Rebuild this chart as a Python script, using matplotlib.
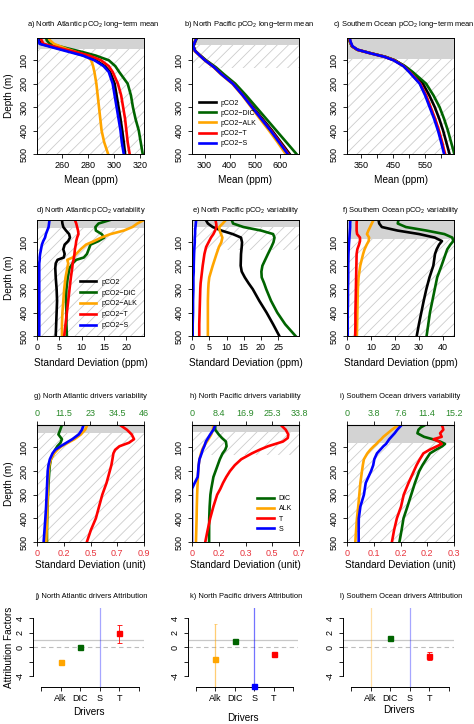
import numpy as np
import matplotlib
matplotlib.use("Agg")
import matplotlib.pyplot as plt

plt.rcParams['font.family'] = ['Liberation Sans', 'DejaVu Sans']
plt.rcParams['mathtext.fontset'] = 'custom'
plt.rcParams['mathtext.rm'] = 'Liberation Sans'
plt.rcParams['hatch.linewidth'] = 0.6

MINUS = "\u2212"
C_BLACK, C_DIC, C_ALK, C_T, C_S = "black", "#006400", "#FFA500", "#FF0000", "#0000FF"

# ---- a) North Atlantic pCO2 long-term mean
a_depth = [5, 15, 30, 50, 65, 80, 100, 125, 150, 200, 250, 300, 350, 400, 450, 500]
a_pco2 = [242, 242.5, 244, 258, 268, 277, 286, 293, 297, 300.5, 302, 303.5, 305, 306.3, 307.5, 308.5]
a_dic = [248, 248.5, 251, 265, 276, 286, 296, 301, 304, 310.5, 313, 314.5, 316.5, 319, 320.5, 322]
a_alk = [250, 251, 254, 263, 271, 279, 282.5, 284, 285, 286.5, 287.5, 288.5, 289.5, 290.5, 292.5, 295.5]
a_t = [244, 244.5, 246, 260, 271, 281, 290, 296, 299, 303, 305.5, 307, 308.5, 309.5, 310.5, 312]
a_s = [242, 242, 243, 256, 266, 276, 285, 292, 296, 299, 300.5, 302, 303.5, 305, 306, 307.5]

# ---- b) North Pacific pCO2 long-term mean
b_depth = [5, 20, 40, 60, 80, 100, 130, 160, 200, 250, 300, 350, 400, 450, 500]
b_pco2 = [268, 262, 255, 262, 282, 303, 340, 370, 415, 455, 492, 530, 568, 603, 638]
b_dic = [270, 263, 256, 263, 284, 306, 345, 377, 422, 465, 505, 545, 585, 625, 665]
b_alk = [266, 261, 254, 260, 280, 300, 336, 365, 410, 450, 485, 520, 556, 590, 622]
b_t = [268, 262, 255, 262, 282, 302, 338, 368, 413, 453, 489, 526, 564, 599, 633]
b_s = [268, 262, 255, 262, 281, 301, 338, 367, 412, 452, 488, 525, 562, 596, 630]

# ---- c) Southern Ocean pCO2 long-term mean
c_depth = [5, 20, 40, 55, 70, 85, 100, 125, 150, 200, 250, 300, 350, 400, 450, 500]
c_pco2 = [313, 315, 321, 338, 380, 425, 455, 485, 507, 543, 563, 580, 594, 606, 616, 626]
c_dic = [313, 315, 321, 338, 380, 425, 455, 487, 511, 553, 576, 595, 609, 621, 631, 641]
c_alk = [314, 316, 322, 338, 378, 422, 452, 482, 501, 534, 552, 566, 580, 592, 602, 611]
c_t = [314, 316, 322, 338, 379, 423, 453, 483, 502, 535, 553, 567, 581, 593, 603, 612]
c_s = [315, 317, 323, 339, 378, 422, 451, 482, 500, 533, 550, 564, 578, 590, 600, 609]

# ---- d) North Atlantic pCO2 variability
d_depth = [5, 20, 35, 50, 65, 80, 95, 110, 130, 150, 165, 175, 190, 210, 250, 300, 350, 400, 450, 500]
d_pco2 = [5.6, 5.7, 5.9, 6.5, 7.2, 7.4, 7.0, 6.2, 5.9, 6.2, 6.0, 4.6, 4.2, 4.1, 4.2, 4.4, 4.5, 4.4, 4.3, 4.2]
d_dic = [16.4, 13.8, 13.1, 13.2, 14.5, 15.1, 13.8, 12.0, 11.6, 11.2, 10.5, 8.8, 8.0, 7.3, 6.9, 6.6, 6.5, 6.6, 6.6, 6.7]
d_alk = [24, 22.5, 21.4, 19.5, 16.5, 14.4, 12.8, 11.0, 9.8, 8.8, 8.0, 6.8, 7.0, 6.8, 6.4, 6.1, 5.9, 5.7, 5.6, 5.6]
d_t = [8.5, 8.8, 9.0, 9.2, 9.3, 9.0, 8.8, 8.7, 8.5, 8.4, 8.3, 8.2, 8.0, 7.9, 7.6, 7.3, 7.0, 6.7, 6.4, 6.1]
d_s = [2.8, 2.7, 2.6, 2.3, 2.0, 1.8, 1.4, 1.1, 0.9, 0.7, 0.6, 0.6, 0.5, 0.5, 0.5, 0.5, 0.5, 0.5, 0.5, 0.5]

# ---- e) North Pacific pCO2 variability
e_depth = [5, 20, 35, 50, 65, 80, 100, 120, 150, 200, 225, 250, 275, 300, 350, 400, 450, 500]
e_pco2 = [4.0, 4.6, 6.0, 8.5, 11.8, 14.2, 14.5, 14.4, 14.2, 14.1, 14.4, 15.3, 16.4, 17.6, 19.5, 21.6, 23.5, 25.3]
e_dic = [11.5, 11.9, 14.9, 20.0, 23.5, 23.9, 23.6, 23.0, 22.0, 20.4, 20.1, 20.2, 20.9, 21.5, 22.9, 24.7, 27.0, 30.0]
e_alk = [9.8, 8.9, 7.9, 8.0, 8.4, 8.8, 8.5, 7.8, 7.1, 6.0, 5.5, 5.0, 4.8, 4.7, 4.6, 4.6, 4.6, 4.6]
e_t = [6.8, 7.0, 7.1, 6.7, 6.2, 5.5, 4.8, 4.1, 3.6, 3.1, 2.9, 2.7, 2.5, 2.4, 2.3, 2.2, 2.1, 2.1]
e_s = [1.2, 1.1, 1.0, 0.9, 0.9, 0.8, 0.8, 0.7, 0.6, 0.5, 0.5, 0.4, 0.4, 0.4, 0.3, 0.3, 0.2, 0.2]

# ---- f) Southern Ocean pCO2 variability
f_depth = [5, 20, 35, 50, 65, 80, 95, 110, 130, 150, 200, 250, 300, 350, 400, 450, 500]
f_pco2 = [13.1, 13.4, 14.5, 21.0, 30.0, 36.5, 39.5, 38.3, 37.3, 36.6, 35.9, 34.3, 33.0, 31.9, 30.9, 29.9, 29.0]
f_dic = [21.4, 21.1, 24.5, 33.0, 40.5, 43.8, 44.2, 43.0, 41.7, 41.0, 39.3, 37.5, 36.5, 35.5, 34.5, 33.8, 33.1]
f_alk = [11.0, 10.3, 9.6, 8.9, 8.3, 9.2, 9.0, 8.2, 7.3, 6.7, 5.5, 4.8, 4.5, 4.4, 4.3, 4.2, 4.1]
f_t = [4.1, 4.0, 4.0, 4.0, 4.2, 5.4, 5.4, 5.0, 4.3, 4.0, 3.9, 3.8, 3.7, 3.6, 3.5, 3.5, 3.4]
f_s = [1.4, 1.3, 1.3, 1.2, 1.1, 1.0, 0.9, 0.8, 0.7, 0.6, 0.5, 0.5, 0.4, 0.4, 0.3, 0.3, 0.3]

# ---- g) North Atlantic drivers variability (fraction of axis range)
g_depth = [5, 25, 45, 65, 80, 95, 110, 125, 150, 175, 200, 250, 300, 350, 400, 450, 500]
g_dic = [0.233, 0.217, 0.20, 0.233, 0.22, 0.19, 0.17, 0.155, 0.13, 0.12, 0.115, 0.108, 0.103, 0.098, 0.095, 0.093, 0.093]
g_alk = [0.47, 0.45, 0.41, 0.35, 0.29, 0.23, 0.19, 0.16, 0.13, 0.115, 0.108, 0.102, 0.10, 0.097, 0.093, 0.09, 0.087]
g_t = [0.776, 0.84, 0.885, 0.907, 0.86, 0.77, 0.73, 0.714, 0.705, 0.695, 0.68, 0.65, 0.61, 0.58, 0.55, 0.503, 0.466]
g_s = [0.435, 0.42, 0.39, 0.33, 0.275, 0.22, 0.17, 0.145, 0.12, 0.107, 0.10, 0.095, 0.09, 0.085, 0.078, 0.07, 0.062]

# ---- h) North Pacific drivers variability
h_depth = [5, 25, 45, 60, 75, 95, 110, 125, 150, 175, 200, 225, 250, 275, 300, 350, 400, 450, 500]
h_dic = [0.217, 0.217, 0.25, 0.28, 0.317, 0.323, 0.31, 0.286, 0.26, 0.24, 0.22, 0.20, 0.19, 0.18, 0.172, 0.165, 0.161, 0.16, 0.16]
h_alk = [0.20, 0.195, 0.18, 0.16, 0.14, 0.11, 0.095, 0.084, 0.07, 0.062, 0.058, 0.055, 0.053, 0.05, 0.048, 0.045, 0.043, 0.04, 0.037]
h_t = [0.83, 0.876, 0.90, 0.895, 0.85, 0.71, 0.63, 0.56, 0.46, 0.40, 0.355, 0.32, 0.29, 0.265, 0.235, 0.20, 0.17, 0.146, 0.124]
h_s = [0.217, 0.20, 0.17, 0.15, 0.13, 0.115, 0.10, 0.09, 0.07, 0.062, 0.058, 0.053, 0.025, 0.0, 0.0, 0.0, 0.0, 0.0, 0.0]

# ---- i) Southern Ocean drivers variability
i_depth = [5, 15, 25, 40, 55, 65, 75, 85, 95, 110, 125, 150, 175, 200, 250, 300, 350, 400, 450, 500]
i_dic = [0.73, 0.69, 0.668, 0.658, 0.72, 0.80, 0.87, 0.916, 0.89, 0.83, 0.776, 0.74, 0.705, 0.675, 0.635, 0.60, 0.565, 0.528, 0.51, 0.49]
i_alk = [0.48, 0.45, 0.42, 0.38, 0.34, 0.32, 0.295, 0.275, 0.25, 0.217, 0.19, 0.158, 0.148, 0.14, 0.125, 0.115, 0.105, 0.093, 0.085, 0.078]
i_t = [0.885, 0.895, 0.90, 0.87, 0.885, 0.81, 0.86, 0.885, 0.84, 0.77, 0.714, 0.68, 0.65, 0.625, 0.575, 0.53, 0.505, 0.466, 0.44, 0.42]
i_s = [0.51, 0.49, 0.47, 0.445, 0.415, 0.395, 0.38, 0.365, 0.34, 0.31, 0.28, 0.255, 0.245, 0.225, 0.175, 0.158, 0.125, 0.11, 0.109, 0.109]

g_top_labels = ["0", "11.5", "23", "34.5", "46"]
g_bot_labels = ["0", "0.2", "0.5", "0.7", "0.9"]
h_top_labels = ["0", "8.4", "16.9", "25.3", "33.8"]
h_bot_labels = ["0", "0.2", "0.3", "0.5", "0.7"]
i_top_labels = ["0", "3.8", "7.6", "11.4", "15.2"]
i_bot_labels = ["0", "0.1", "0.2", "0.2", "0.3"]

# ---- j-l) attribution factors: Alk, DIC, S, T  (nan = no estimate)
drivers = ["Alk", "DIC", "S", "T"]
j_est = [-2.0, 0.05, np.nan, 1.9]
j_lo = [-2.2, -0.08, -20, 0.6]
j_hi = [-1.8, 0.18, 20, 3.1]
k_est = [-1.7, 0.8, -5.4, -0.9]
k_lo = [-20, 0.7, -5.4, -1.05]
k_hi = [3.2, 0.9, 20, -0.75]
l_est = [np.nan, 1.2, np.nan, -1.25]
l_lo = [-20, 1.1, -20, -1.8]
l_hi = [20, 1.3, 20, -0.7]

W, H = 474, 724
fig = plt.figure(figsize=(W / 100, H / 100), dpi=100)


def px_axes(x0, y0, x1, y1):
    return fig.add_axes([x0 / W, 1 - y1 / H, (x1 - x0) / W, (y1 - y0) / H])


def ftext(x, y, s, **kw):
    fig.text(x / W, 1 - y / H, s, ha="center", va="center", **kw)


cols = [(37, 144), (192, 299), (347, 454)]
rows = [(38, 154), (220, 336), (425, 542)]


def depth_axes(col, row, band, hatch_to):
    x0, x1 = cols[col]
    y0, y1 = rows[row]
    ax = px_axes(x0, y0, x1, y1)
    ax.set_ylim(500, 5)
    ax.axhspan(5, band, facecolor="#d3d3d3", lw=0, zorder=0)
    ax.axhspan(band, hatch_to, facecolor="none", edgecolor="#cccccc", hatch="///", lw=0, zorder=0)
    ax.set_yticks([100, 200, 300, 400, 500])
    ax.set_yticklabels(["100", "200", "300", "400", "500"], rotation=90, va="center")
    ax.tick_params(length=3, width=0.6, labelsize=6.5, pad=2)
    ax.tick_params(axis="y", pad=3)
    for sp in ax.spines.values():
        sp.set_linewidth(0.7)
    if col == 0:
        ftext(9, (y0 + y1) / 2, "Depth (m)", fontsize=7.2, rotation=90)
    return ax


lw = 1.9
titles1 = ["a) North Atlantic pCO$_2$ long" + MINUS + "term mean",
           "b) North Pacific pCO$_2$ long" + MINUS + "term mean",
           "c) Southern Ocean pCO$_2$ long" + MINUS + "term mean"]
titles2 = ["d) North Atlantic pCO$_2$ variability",
           "e) North Pacific pCO$_2$ variability",
           "f) Southern Ocean pCO$_2$ variability"]
titles3 = ["g) North Atlantic drivers variability",
           "h) North Pacific drivers variability",
           "i) Southern Ocean drivers variability"]
titles4 = ["j) North Atlantic drivers Attribution",
           "k) North Pacific drivers Attribution",
           "l) Southern Ocean drivers Attribution"]

leg5 = ["pCO2", "pCO2" + MINUS + "DIC", "pCO2" + MINUS + "ALK", "pCO2" + MINUS + "T", "pCO2" + MINUS + "S"]
col5 = [C_BLACK, C_DIC, C_ALK, C_T, C_S]

# ---------------- row 1
row1 = [(a_depth, [a_pco2, a_dic, a_alk, a_t, a_s], 50, 500, (241, 323), [260, 280, 300, 320], None),
        (b_depth, [b_pco2, b_dic, b_alk, b_t, b_s], 35, 132, (250, 675), [300, 400, 500, 600], None),
        (c_depth, [c_pco2, c_dic, c_alk, c_t, c_s], 95, 500, (306, 640), [350, 400, 450, 500, 550, 600],
         ["350", "", "450", "", "550", ""])]
for ci, (dep, series, band, hto, xl, xt, xtl) in enumerate(row1):
    ax = depth_axes(ci, 0, band, hto)
    for vals, c, lab in zip(series, col5, leg5):
        ax.plot(vals, dep, color=c, lw=lw, label=lab)
    ax.set_xlim(*xl)
    ax.set_xticks(xt)
    if xtl:
        ax.set_xticklabels(xtl)
    if ci == 1:
        ax.legend(loc="lower left", bbox_to_anchor=(0.0, 0.0), frameon=False, fontsize=5,
                  handlelength=2.4, labelspacing=0.45, handletextpad=0.7, borderpad=0.5)
    c0 = (cols[ci][0] + cols[ci][1]) / 2
    ftext(c0 + 3, 25, titles1[ci], fontsize=5.4)
    ftext(c0, 180, "Mean (ppm)", fontsize=7.2)

# ---------------- row 2
row2 = [(d_depth, [d_pco2, d_dic, d_alk, d_t, d_s], 38, 500, (0, 24), [0, 5, 10, 15, 20]),
        (e_depth, [e_pco2, e_dic, e_alk, e_t, e_s], 34, 133, (0, 31), [0, 5, 10, 15, 20, 25]),
        (f_depth, [f_pco2, f_dic, f_alk, f_t, f_s], 87, 500, (0, 44.5), [0, 10, 20, 30, 40])]
for ci, (dep, series, band, hto, xl, xt) in enumerate(row2):
    ax = depth_axes(ci, 1, band, hto)
    for vals, c, lab in zip(series, col5, leg5):
        ax.plot(vals, dep, color=c, lw=lw, label=lab)
    ax.set_xlim(*xl)
    ax.set_xticks(xt)
    if ci == 0:
        ax.legend(loc="lower right", bbox_to_anchor=(1.0, 0.0), frameon=False, fontsize=5,
                  handlelength=2.4, labelspacing=0.55, handletextpad=0.7, borderpad=0.5)
    c0 = (cols[ci][0] + cols[ci][1]) / 2
    ftext(c0, 211, titles2[ci], fontsize=5.4)
    ftext(c0, 363, "Standard Deviation (ppm)", fontsize=7.2)

# ---------------- row 3
leg4 = ["DIC", "ALK", "T", "S"]
col4 = [C_DIC, C_ALK, C_T, C_S]
row3 = [(g_depth, [g_dic, g_alk, g_t, g_s], 40, 500, g_top_labels, g_bot_labels),
        (h_depth, [h_dic, h_alk, h_t, h_s], 36, 132, h_top_labels, h_bot_labels),
        (i_depth, [i_dic, i_alk, i_t, i_s], 80, 500, i_top_labels, i_bot_labels)]
qt = [0, 0.25, 0.5, 0.75, 1.0]
for ci, (dep, series, band, hto, toplab, botlab) in enumerate(row3):
    ax = depth_axes(ci, 2, band, hto)
    for vals, c, lab in zip(series, col4, leg4):
        ax.plot(vals, dep, color=c, lw=lw, label=lab)
    ax.set_xlim(0, 1)
    ax.set_xticks(qt)
    ax.set_xticklabels(botlab, color="#e8333c")
    sec = ax.secondary_xaxis("top")
    sec.set_xticks(qt)
    sec.set_xticklabels(toplab, color="#2a8a2a")
    sec.tick_params(length=3, width=0.6, labelsize=6.5, pad=2)
    if ci == 1:
        ax.legend(loc="lower right", bbox_to_anchor=(1.0, 0.02), frameon=False, fontsize=5,
                  handlelength=2.4, labelspacing=0.45, handletextpad=0.7, borderpad=0.5)
    c0 = (cols[ci][0] + cols[ci][1]) / 2
    ftext(c0, 397, titles3[ci], fontsize=5.4)
    ftext(c0, 565, "Standard Deviation (unit)", fontsize=7.2)

# ---------------- row 4
row4 = [(j_est, j_lo, j_hi), (k_est, k_lo, k_hi), (l_est, l_lo, l_hi)]
cols4 = [(33, 144), (188, 298), (343, 454)]
xlab_y = [712, 718, 710]
for ci, (est, lo, hi) in enumerate(row4):
    x0, x1 = cols4[ci]
    ax = px_axes(x0, 608, x1, 687)
    ax.set_xlim(-0.4, 5.25)
    ax.set_ylim(-5.5, 5.4)
    ax.axhline(1, color="#c8c8c8", lw=0.9, zorder=1)
    ax.axhline(0, color="#bdbdbd", lw=0.8, ls=(0, (4, 3)), zorder=1)
    for k, c in enumerate(col4_attr := [C_ALK, C_DIC, C_S, C_T]):
        xk = k + 1
        e = est[k]
        full = np.isnan(e) or lo[k] < -10 or hi[k] > 10
        alpha = 0.35 if np.isnan(e) else 0.55
        if full:
            ax.vlines(xk, lo[k], hi[k], color=c, lw=0.9, alpha=alpha, zorder=2)
            if not np.isnan(e):
                if hi[k] < 10:
                    ax.hlines(hi[k], xk - 0.08, xk + 0.08, color=c, lw=0.6, alpha=alpha)
                ax.plot(xk, e, "s", color=c, ms=3.6, zorder=4, clip_on=False)
        else:
            ax.errorbar(xk, e, yerr=[[e - lo[k]], [hi[k] - e]], fmt="s", color=c, ms=3.6,
                        elinewidth=0.6, capsize=1.8, capthick=0.6, zorder=4)
    for s in ["top", "right"]:
        ax.spines[s].set_visible(False)
    ax.spines["bottom"].set_bounds(0, 5)
    ax.spines["left"].set_bounds(-4, 4)
    ax.spines["bottom"].set_linewidth(0.7)
    ax.spines["left"].set_linewidth(0.7)
    ax.set_xticks([0, 1, 2, 3, 4, 5])
    ax.set_xticklabels([""] + drivers + [""])
    ax.set_yticks([-4, -2, 0, 2, 4])
    ax.set_yticklabels(["-4", "", "0", "2", "4"], rotation=90, va="center")
    ax.tick_params(length=3, width=0.6, labelsize=6.5, pad=2)
    ax.tick_params(axis="y", pad=3)
    c0 = (x0 + x1) / 2
    ftext(c0 + 3, 596, titles4[ci], fontsize=5.4)
    ftext(c0, xlab_y[ci], "Drivers", fontsize=7.2)

ftext(9, 647, "Attribution Factors", fontsize=7.2, rotation=90)

fig.savefig("out.png", dpi=100)
